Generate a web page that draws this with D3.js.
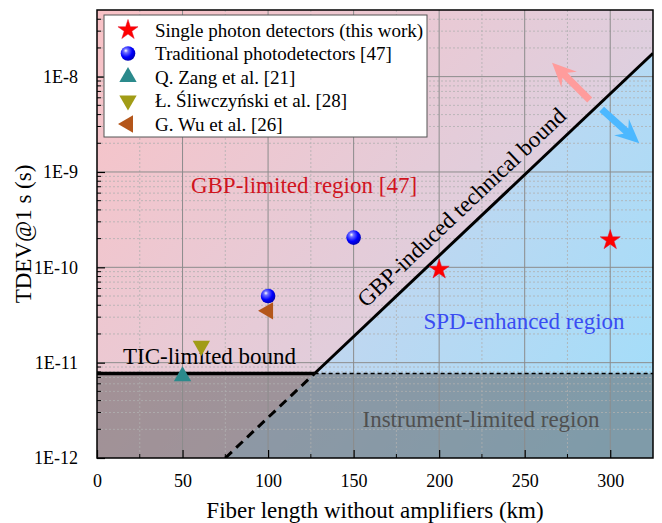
<!DOCTYPE html>
<html>
<head>
<meta charset="utf-8">
<script src="https://cdn.jsdelivr.net/npm/d3@7"></script>
<style>
  html, body { margin: 0; padding: 0; background: #fff; }
  svg text { font-family: "Liberation Serif", "Times New Roman", serif; }
</style>
</head>
<body>
<div id="chart"></div>
<script>
// data
const spdX = [200, 300];
const spdY = [9.5e-11, 1.93e-10];
const tradX = [100, 150];
const tradY = [5.0e-11, 2.05e-10];
const zangX = [50];
const zangY = [7.2e-12];
const sliwX = [61];
const sliwY = [1.5e-11];
const wuX = [100];
const wuY = [3.5e-11];

// bounds
const ticBound = 7.7e-12;
const gbpBoundX = [75, 325];
const gbpBoundY = [1e-12, 1.76e-8];

// direction arrows [x, y] tail -> tip
const arrowUp = [[288, 5.7e-9], [266, 1.4e-8]];
const arrowDown = [[295, 4.55e-9], [317, 2.0e-9]];

const xTicks = [0, 50, 100, 150, 200, 250, 300];
const yTicks = [1e-12, 1e-11, 1e-10, 1e-9, 1e-8];
const yTickLabels = ['1E-12', '1E-11', '1E-10', '1E-9', '1E-8'];

const legendLabels = [
  'Single photon detectors (this work)',
  'Traditional photodetectors [47]',
  'Q. Zang et al. [21]',
  'Ł. Śliwczyński et al. [28]',
  'G. Wu et al. [26]'
];

const width = 662, height = 523;
const pL = 97, pR = 653, pT = 10, pB = 458;

const svg = d3.select('#chart').append('svg')
  .attr('width', width)
  .attr('height', height);

const x = d3.scaleLinear().domain([0, 325]).range([pL, pR]);
const y = d3.scaleLog().domain([1e-12, 5e-8]).range([pB, pT]);

const defs = svg.append('defs');

// background gradients
const bgGrad = defs.append('linearGradient').attr('id', 'bgGrad')
  .attr('gradientUnits', 'userSpaceOnUse')
  .attr('x1', pL).attr('y1', pT).attr('x2', pR).attr('y2', pB);
bgGrad.append('stop').attr('offset', '0%').attr('stop-color', '#f9c2c6');
bgGrad.append('stop').attr('offset', '100%').attr('stop-color', '#cfd6ec');

const spdGrad = defs.append('linearGradient').attr('id', 'spdGrad')
  .attr('gradientUnits', 'userSpaceOnUse')
  .attr('x1', 300).attr('y1', 150).attr('x2', pR).attr('y2', 380);
spdGrad.append('stop').attr('offset', '0%').attr('stop-color', '#ccd4ec');
spdGrad.append('stop').attr('offset', '100%').attr('stop-color', '#a4ddf9');

const ball = defs.append('radialGradient').attr('id', 'ball')
  .attr('cx', '38%').attr('cy', '35%').attr('r', '65%').attr('fx', '35%').attr('fy', '30%');
ball.append('stop').attr('offset', '0%').attr('stop-color', '#ffffff');
ball.append('stop').attr('offset', '22%').attr('stop-color', '#7070ff');
ball.append('stop').attr('offset', '65%').attr('stop-color', '#0000ff');
ball.append('stop').attr('offset', '100%').attr('stop-color', '#0000b8');

defs.append('clipPath').attr('id', 'plotClip')
  .append('rect').attr('x', pL).attr('y', pT)
  .attr('width', pR - pL).attr('height', pB - pT);

const plot = svg.append('g').attr('clip-path', 'url(#plotClip)');

plot.append('rect')
  .attr('x', pL).attr('y', pT)
  .attr('width', pR - pL).attr('height', pB - pT)
  .attr('fill', 'url(#bgGrad)');

// SPD-enhanced region, below the GBP bound
plot.append('path')
  .attr('d', d3.line()([
    [x(gbpBoundX[0]), y(gbpBoundY[0])],
    [x(gbpBoundX[1]), y(gbpBoundY[1])],
    [x(325), y(gbpBoundY[1])],
    [x(325), y(1e-12)]
  ]))
  .attr('fill', 'url(#spdGrad)');

// instrument-limited region
plot.append('rect')
  .attr('x', pL).attr('y', y(ticBound))
  .attr('width', pR - pL).attr('height', pB - y(ticBound))
  .attr('fill', 'rgb(90,90,90)').attr('fill-opacity', 0.5);

// grid
const xMinor = d3.range(25, 325, 50);
const yMinor = [];
for (let e = -12; e <= -8; e++) {
  for (let m = 2; m <= 9; m++) {
    const v = m * Math.pow(10, e);
    if (v < 5e-8) yMinor.push(v);
  }
}

plot.selectAll('.xminor').data(xMinor).enter().append('line')
  .attr('x1', d => x(d)).attr('x2', d => x(d))
  .attr('y1', pT).attr('y2', pB)
  .attr('stroke', '#b0b0b0').attr('stroke-width', 0.8).attr('stroke-dasharray', '2,2');
plot.selectAll('.yminor').data(yMinor).enter().append('line')
  .attr('x1', pL).attr('x2', pR)
  .attr('y1', d => y(d)).attr('y2', d => y(d))
  .attr('stroke', '#b0b0b0').attr('stroke-width', 0.8).attr('stroke-dasharray', '2,2');
plot.selectAll('.xmajor').data(xTicks.slice(1)).enter().append('line')
  .attr('x1', d => x(d)).attr('x2', d => x(d))
  .attr('y1', pT).attr('y2', pB)
  .attr('stroke', '#8c8c8c').attr('stroke-width', 1);
plot.selectAll('.ymajor').data(yTicks.slice(1)).enter().append('line')
  .attr('x1', pL).attr('x2', pR)
  .attr('y1', d => y(d)).attr('y2', d => y(d))
  .attr('stroke', '#8c8c8c').attr('stroke-width', 1);

// where the GBP bound meets the TIC bound
const slope = (Math.log10(gbpBoundY[1]) - Math.log10(gbpBoundY[0])) / (gbpBoundX[1] - gbpBoundX[0]);
const xCross = gbpBoundX[0] + (Math.log10(ticBound) - Math.log10(gbpBoundY[0])) / slope;

const line = d3.line().x(d => x(d[0])).y(d => y(d[1]));

plot.append('path')
  .attr('d', line([[0, ticBound], [xCross, ticBound]]))
  .attr('stroke', '#000').attr('stroke-width', 3.5).attr('fill', 'none');
plot.append('path')
  .attr('d', line([[xCross, ticBound], [325, ticBound]]))
  .attr('stroke', '#000').attr('stroke-width', 1.5).attr('stroke-dasharray', '4,3').attr('fill', 'none');
plot.append('path')
  .attr('d', line([[gbpBoundX[0], gbpBoundY[0]], [xCross, ticBound]]))
  .attr('stroke', '#000').attr('stroke-width', 3).attr('stroke-dasharray', '9,6').attr('fill', 'none');
plot.append('path')
  .attr('d', line([[xCross, ticBound], [gbpBoundX[1], gbpBoundY[1]]]))
  .attr('stroke', '#000').attr('stroke-width', 3).attr('fill', 'none');

// arrows
function arrow(a, color) {
  const x0 = x(a[0][0]), y0 = y(a[0][1]);
  const x1 = x(a[1][0]), y1 = y(a[1][1]);
  const L = Math.hypot(x1 - x0, y1 - y0);
  const ang = Math.atan2(y1 - y0, x1 - x0) * 180 / Math.PI;
  const h = 24, w = 11, s = 3.5;
  const pts = [[0, -s], [L - h + 6, -s], [L - h, -w], [L, 0], [L - h, w], [L - h + 6, s], [0, s]];
  plot.append('path')
    .attr('d', d3.line()(pts) + 'Z')
    .attr('transform', `translate(${x0},${y0}) rotate(${ang})`)
    .attr('fill', color);
}
arrow(arrowUp, '#ff9c9c');
arrow(arrowDown, '#4cb8ff');

// region labels
const labels = svg.append('g').attr('font-size', 23);
labels.append('text').attr('x', 304).attr('y', 193)
  .attr('text-anchor', 'middle').attr('fill', '#d0141e').text('GBP-limited region [47]');
labels.append('text').attr('x', 524).attr('y', 329)
  .attr('text-anchor', 'middle').attr('fill', '#3a4cf2').text('SPD-enhanced region');
labels.append('text').attr('x', 481).attr('y', 427)
  .attr('text-anchor', 'middle').attr('fill', '#505050').text('Instrument-limited region');
labels.append('text').attr('x', 123).attr('y', 364)
  .attr('fill', '#000').text('TIC-limited bound');

const angle = Math.atan2(y(gbpBoundY[1]) - y(gbpBoundY[0]), x(gbpBoundX[1]) - x(gbpBoundX[0])) * 180 / Math.PI;
const xMid = 221;
const yMid = Math.pow(10, Math.log10(gbpBoundY[0]) + slope * (xMid - gbpBoundX[0]));
labels.append('text')
  .attr('transform', `translate(${x(xMid)},${y(yMid)}) rotate(${angle})`)
  .attr('y', -12)
  .attr('text-anchor', 'middle').attr('fill', '#000').text('GBP-induced technical bound');

// markers
const star = d3.symbol(d3.symbolStar).size(125);
const tri = d3.symbol(d3.symbolTriangle).size(130);

function drawStar(g, px, py) {
  g.append('path').attr('d', star()).attr('transform', `translate(${px},${py})`)
    .attr('fill', '#ff0000').attr('stroke', '#e0102a').attr('stroke-width', 0.5);
}
function drawBall(g, px, py) {
  g.append('circle').attr('cx', px).attr('cy', py).attr('r', 7.3).attr('fill', 'url(#ball)');
}
function drawTri(g, px, py, rot, color) {
  g.append('path').attr('d', tri()).attr('transform', `translate(${px},${py}) rotate(${rot})`)
    .attr('fill', color);
}

const marks = svg.append('g');
spdX.forEach((d, i) => drawStar(marks, x(d), y(spdY[i])));
tradX.forEach((d, i) => drawBall(marks, x(d), y(tradY[i])));
zangX.forEach((d, i) => drawTri(marks, x(d), y(zangY[i]), 0, '#2b8a8c'));
sliwX.forEach((d, i) => drawTri(marks, x(d), y(sliwY[i]), 180, '#a19c16'));
wuX.forEach((d, i) => drawTri(marks, x(d), y(wuY[i]), -90, '#b4561a'));

// axes frame and ticks
svg.append('rect')
  .attr('x', pL).attr('y', pT)
  .attr('width', pR - pL).attr('height', pB - pT)
  .attr('fill', 'none').attr('stroke', '#000').attr('stroke-width', 1.5);

const xAxis = svg.append('g').attr('transform', `translate(0,${pB})`)
  .call(d3.axisBottom(x).tickValues(xTicks).tickSize(-8).tickPadding(16).tickFormat(d3.format('d')));
xAxis.append('g').selectAll('line').data(xMinor).enter().append('line')
  .attr('x1', d => x(d)).attr('x2', d => x(d)).attr('y1', 0).attr('y2', -4)
  .attr('stroke', '#000');

const yAxis = svg.append('g').attr('transform', `translate(${pL},0)`)
  .call(d3.axisLeft(y).tickValues(yTicks).tickSize(-8).tickPadding(19)
    .tickFormat((d, i) => yTickLabels[i]));
yAxis.append('g').selectAll('line').data(yMinor).enter().append('line')
  .attr('y1', d => y(d)).attr('y2', d => y(d)).attr('x1', 0).attr('x2', 4)
  .attr('stroke', '#000');

[xAxis, yAxis].forEach(a => {
  a.select('.domain').remove();
  a.selectAll('.tick line').attr('stroke', '#000').attr('stroke-width', 1.2);
  a.selectAll('text').attr('font-size', 18).attr('fill', '#000')
    .attr('font-family', '"Liberation Serif", "Times New Roman", serif');
});

// axis titles
svg.append('text')
  .attr('x', (pL + pR) / 2).attr('y', 518)
  .attr('text-anchor', 'middle').attr('font-size', 23)
  .text('Fiber length without amplifiers (km)');
svg.append('text')
  .attr('transform', `translate(31,${(pT + pB) / 2}) rotate(-90)`)
  .attr('text-anchor', 'middle').attr('font-size', 23)
  .text('TDEV@1 s (s)');

// legend
const legend = svg.append('g');
legend.append('rect')
  .attr('x', 104).attr('y', 15).attr('width', 323).attr('height', 122)
  .attr('fill', '#fff').attr('stroke', '#555').attr('stroke-width', 1);

const legendRows = legend.selectAll('g.row').data(legendLabels).enter().append('g')
  .attr('class', 'row')
  .attr('transform', (d, i) => `translate(0,${30 + i * 23.5})`);
legendRows.append('text')
  .attr('x', 155).attr('y', 6.5).attr('font-size', 19).text(d => d);
legendRows.each(function(d, i) {
  const g = d3.select(this);
  if (i === 0) drawStar(g, 128, 0);
  if (i === 1) drawBall(g, 128, 0);
  if (i === 2) drawTri(g, 128, 0, 0, '#2b8a8c');
  if (i === 3) drawTri(g, 128, 0, 180, '#a19c16');
  if (i === 4) drawTri(g, 128, 0, -90, '#b4561a');
});
</script>
</body>
</html>
